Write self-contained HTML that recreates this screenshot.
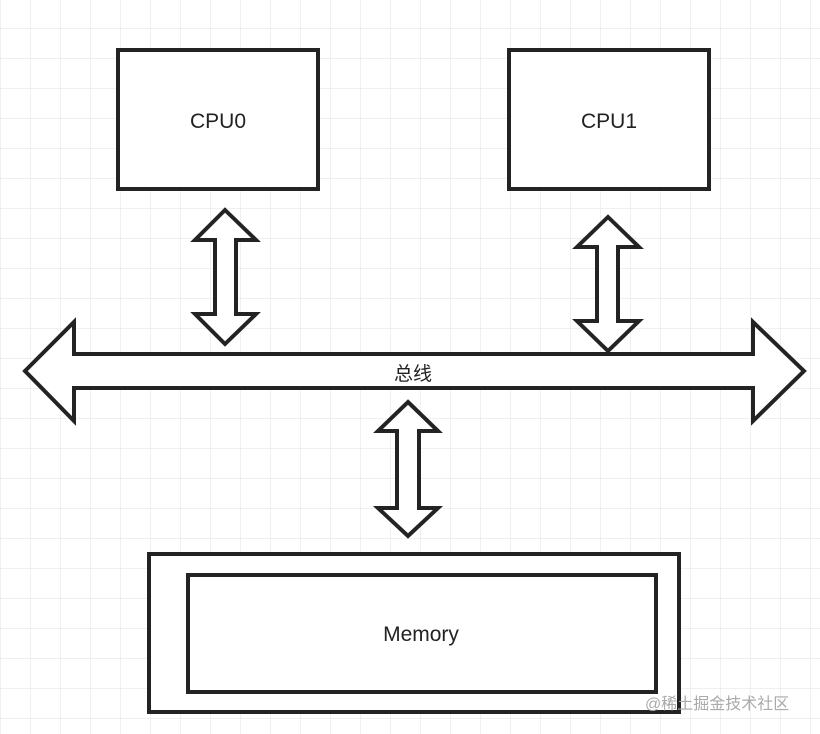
<!DOCTYPE html>
<html><head><meta charset="utf-8"><style>
html,body{margin:0;padding:0;background:#fff;}
svg{display:block;}
</style></head><body>
<svg width="820" height="734" viewBox="0 0 820 734" xmlns="http://www.w3.org/2000/svg">
<defs>
<pattern id="g" x="1" y="-1" width="30" height="30" patternUnits="userSpaceOnUse">
<path d="M30 0V30M0 30H30" stroke="#ececec" stroke-width="1.5" fill="none"/>
</pattern>
</defs>
<rect width="820" height="734" fill="#fff"/>
<rect width="820" height="734" fill="url(#g)"/>
<g stroke="#232323" stroke-width="4" fill="#fff" stroke-linejoin="miter">
<rect x="118" y="50" width="200" height="139"/>
<rect x="509" y="50" width="200" height="139"/>
<rect x="149" y="554" width="530" height="158"/>
<rect x="188" y="575" width="468" height="117"/>
<polygon points="225,210 256,240 236,240 236,314 256,314 225,344 195,314 215,314 215,240 195,240"/>
<polygon points="608,217 639,247 618,247 618,321 639,321 608,351 577,321 597,321 597,247 577,247"/>
<polygon points="408,402 438,431 419,431 419,508 438,508 408,536 378,508 397,508 397,431 378,431"/>
<polygon points="25,371 74,322 74,354 753,354 753,322 804,371 753,421 753,388 74,388 74,421"/>
</g>
<g font-family="Liberation Sans, sans-serif" font-size="21" fill="#222" text-anchor="middle">
<text x="218" y="128">CPU0</text>
<text x="609" y="128">CPU1</text>
<text x="421" y="641">Memory</text>
<text x="413" y="380" font-family="Liberation Sans, Noto Sans CJK SC, sans-serif" font-size="19">总线</text>
</g>
<text x="645" y="709" font-family="Liberation Sans, Noto Sans CJK SC, sans-serif" font-size="16" fill="#aaa">@稀土掘金技术社区</text>
</svg>
</body></html>
